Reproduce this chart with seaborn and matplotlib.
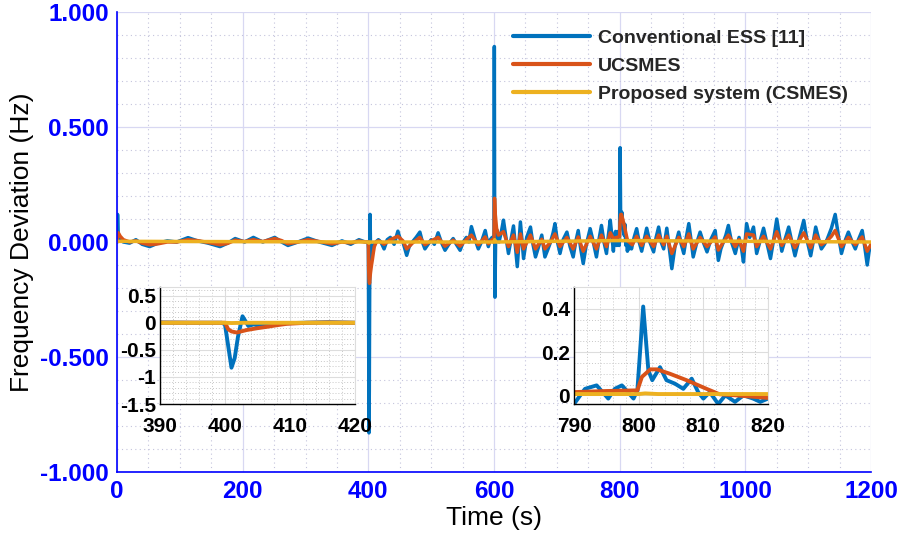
import numpy as np
import pandas as pd
import seaborn as sns
import matplotlib.pyplot as plt
from matplotlib.ticker import MultipleLocator, FormatStrFormatter

# ---- data (time in s, deviation in Hz) ----
t_ess = [0, 0.8, 2, 5, 10, 20, 30, 40, 52, 65, 80, 95, 113, 128, 145, 164, 176, 188, 203, 217,
         232, 251, 262, 272, 288, 304, 322, 342, 358, 372, 385, 395, 399.5,
         400.0, 400.4, 401.0, 401.5, 402.0, 402.7, 403.6, 404.4, 405.4, 407, 409, 412, 416, 420,
         425, 430, 435, 441, 447, 451, 455, 461, 465, 470, 476, 482, 486, 490, 495, 500, 505, 511,
         516, 522, 528, 535, 540, 546, 551, 556, 560, 564, 570, 575, 580, 586, 591, 594, 597, 599.5,
         600.0, 600.5, 601.0, 601.5, 602.5, 605,
         608, 612, 615, 619, 623, 627, 631, 634, 637, 640, 642, 645, 647, 652, 658, 662, 666, 671,
         676, 681, 686, 690, 694, 697, 701, 705, 710, 716, 721, 726, 730, 734, 738, 742, 747, 753,
         758, 763, 767, 771, 775, 779, 782, 785,
         790.0, 791.7, 793.5, 795.3, 796.3, 797.4, 798.1, 799.2, 799.8, 800.7, 801.5, 802.1, 803.3,
         804.3, 805.6, 806.9, 808.2, 809.2, 810.0, 811.0, 812.3, 813.4, 814.9, 816.2, 817.7, 818.8, 820.0,
         823, 827, 831, 835, 839, 843, 848, 854, 858, 862, 866, 870, 875, 879, 883, 888, 894, 898,
         902, 906, 910, 914, 917, 922, 928, 933, 939, 945, 952, 957, 961, 965, 969, 973, 978, 984,
         990, 994, 997, 1002, 1007, 1013, 1018, 1023, 1029, 1034, 1040, 1045, 1050, 1054, 1058, 1063,
         1069, 1074, 1079, 1086, 1093, 1098, 1104, 1108, 1112, 1117, 1121, 1126, 1130, 1137, 1143,
         1148, 1153, 1158, 1164, 1170, 1175, 1180, 1186, 1190, 1194, 1197, 1200]
ess = [0.0, 0.12, 0.03, 0.01, 0.0, -0.005, 0.01, -0.01, -0.02, -0.005, 0.005, 0.0, 0.019, 0.005, -0.005,
       -0.02, -0.005, 0.015, 0.0, 0.02, 0.0, 0.02, 0.0, -0.015, 0.0, 0.017, 0.0, -0.015, 0.005, -0.01,
       0.01, 0.0, 0.0,
       -0.03, -0.35, -0.83, -0.65, -0.26, 0.12, -0.06, -0.03, -0.06, -0.03, -0.01, 0.0, 0.01, 0.0,
       -0.03, 0.01, 0.02, -0.01, 0.047, 0.01, 0.0, -0.058, -0.02, 0.0, 0.02, 0.043, 0.0, -0.03, -0.01,
       0.01, -0.01, 0.04, 0.0, -0.036, -0.01, 0.015, -0.01, -0.036, 0.0, 0.02, 0.0, 0.067, 0.01, -0.03,
       0.0, 0.05, -0.02, 0.01, 0.02, 0.0,
       0.0, 0.85, 0.1, -0.24, 0.0, 0.05,
       0.0, 0.05, 0.095, 0.02, -0.05, 0.01, 0.07, -0.02, -0.107, 0.01, 0.087, -0.01, -0.072, 0.02,
       0.065, -0.01, -0.065, -0.02, 0.03, -0.065, -0.03, 0.0, 0.04, 0.08, 0.0, -0.05, 0.01, 0.043,
       -0.02, -0.065, 0.0, 0.05, -0.03, -0.094, -0.01, 0.058, 0.0, -0.065, 0.01, 0.072, 0.0, -0.05,
       0.03, 0.095,
       -0.04, 0.03, 0.046, -0.015, 0.03, 0.046, 0.023, -0.015, 0.023, 0.41, 0.115, 0.07, 0.13,
       0.07, 0.054, 0.03, 0.077, 0.015, -0.015, 0.015, -0.04, 0.0, -0.03, 0.0, -0.015, -0.03, -0.015,
       0.02, 0.058, 0.0, -0.04, 0.01, 0.06, 0.0, -0.043, 0.02, 0.065, 0.0, -0.03, 0.06, -0.03, -0.116,
       -0.02, 0.043, -0.01, -0.05, 0.02, 0.08, 0.0, -0.065, -0.01, 0.043, 0.0, -0.043, 0.01, 0.05,
       -0.08, -0.03, 0.0, 0.03, 0.072, 0.0, -0.05, 0.02, -0.03, -0.087, 0.08, 0.02, 0.065, -0.05,
       0.0, 0.06, 0.0, -0.072, 0.01, 0.10, 0.03, -0.04, 0.01, 0.065, 0.0, -0.06, 0.02, 0.094, 0.01,
       -0.06, 0.0, 0.065, 0.01, -0.03, -0.01, 0.01, 0.06, 0.12, 0.03, -0.05, 0.0, 0.043, 0.0, -0.03,
       0.01, 0.05, -0.02, -0.10, -0.04, -0.02]

t_ucs = [0, 0.8, 2, 5, 10, 20, 30, 40, 52, 65, 80, 95, 113, 128, 145, 164, 176, 188, 203, 217,
         232, 251, 262, 272, 288, 304, 322, 342, 358, 372, 385, 395, 399.5,
         400.0, 400.5, 401.0, 401.8, 403.3, 405, 406.4, 408, 409.5, 412.6, 416, 420,
         425, 435, 447, 455, 461, 470, 482, 490, 500, 511, 522, 535, 546, 556, 564, 575, 586, 591, 597, 599.5,
         600.0, 600.8, 602, 604, 607,
         615, 623, 631, 637, 642, 647, 658, 666, 676, 681, 690, 697, 705, 716, 726, 734, 742,
         753, 763, 771, 779, 785,
         790, 795, 799.8, 800.5, 801.8, 802.8, 804.8, 807.4, 810.5, 812.5, 815, 820,
         827, 835, 843, 854, 862, 870, 875, 883, 894, 902, 910, 917, 928, 939, 952, 957, 965, 973, 984,
         990, 997, 1002, 1013, 1018, 1029, 1040, 1050, 1058, 1069, 1079, 1093, 1104, 1112, 1121, 1130,
         1137, 1143, 1153, 1164, 1175, 1186, 1194, 1200]
ucs = [0.0, 0.035, 0.04, 0.025, 0.01, 0.0, 0.005, -0.005, -0.012, -0.008, 0.0, 0.0, 0.01, 0.006, -0.002,
       -0.012, -0.006, 0.008, 0.002, 0.01, 0.002, 0.015, 0.006, -0.008, 0.0, 0.01, 0.002, -0.008, 0.0,
       -0.004, 0.004, 0.0, 0.0,
       0.0, -0.12, -0.16, -0.18, -0.135, -0.1, -0.076, -0.045, -0.02, 0.0, 0.005, 0.0,
       -0.01, 0.01, 0.025, 0.005, -0.03, -0.005, 0.02, -0.012, 0.005, 0.02, -0.018, 0.008, -0.018, 0.01,
       0.03, -0.012, 0.022, -0.008, 0.01, 0.0,
       0.0, 0.19, 0.12, 0.06, 0.03,
       0.045, -0.02, 0.03, -0.045, 0.035, -0.03, 0.03, -0.03, 0.012, -0.03, 0.0, 0.035, -0.02, 0.02,
       -0.03, 0.022, -0.04, 0.025, -0.03, 0.03, -0.02, 0.04,
       0.015, 0.02, 0.023, 0.085, 0.12, 0.12, 0.10, 0.07, 0.03, 0.005, 0.0, -0.012,
       0.025, -0.015, 0.025, -0.02, 0.03, -0.012, 0.025, -0.05, 0.02, -0.02, 0.035, -0.03, 0.02, -0.02,
       0.022, -0.035, 0.0, 0.03, -0.02, 0.01, -0.04, 0.035, 0.03, -0.02, 0.025, -0.03, 0.045, -0.015,
       0.03, -0.025, 0.04, -0.025, 0.03, -0.012, 0.005, 0.025, 0.05, -0.02, 0.02, -0.012, 0.022, -0.04,
       -0.01]

t_csmes = [0, 400, 401, 403, 600, 601, 603, 790, 800, 801, 803, 820, 1200]
csmes = [0.003, 0.0, -0.005, 0.0, 0.0, 0.01, 0.0, 0.006, 0.006, 0.009, 0.006, 0.006, 0.0]

assert len(t_ess) == len(ess) and len(t_ucs) == len(ucs)

labels = ["Conventional ESS [11]", "UCSMES", "Proposed system (CSMES)"]
colors = ["#0072BD", "#D95319", "#EDB120"]

sns.set_style("white")
plt.rcParams["font.family"] = ["Liberation Sans", "DejaVu Sans"]

fig = plt.figure(figsize=(9.13, 5.49), dpi=100)
ax = fig.add_axes([0.1282, 0.1403, 0.8258, 0.8378])


def draw(a, lw):
    sns.lineplot(x=t_ess, y=ess, ax=a, color=colors[0], lw=lw, label=labels[0], sort=False)
    sns.lineplot(x=t_ucs, y=ucs, ax=a, color=colors[1], lw=lw, label=labels[1], sort=False)
    sns.lineplot(x=t_csmes, y=csmes, ax=a, color=colors[2], lw=lw, label=labels[2], sort=False)


draw(ax, 2.5)
ax.set_xlim(0, 1200)
ax.set_ylim(-1, 1)
ax.xaxis.set_major_locator(MultipleLocator(200))
ax.xaxis.set_minor_locator(MultipleLocator(50))
ax.yaxis.set_major_locator(MultipleLocator(0.5))
ax.yaxis.set_minor_locator(MultipleLocator(0.1))
ax.yaxis.set_major_formatter(FormatStrFormatter("%.3f"))
ax.grid(which="major", color="#d8d8f2", lw=0.9, ls="-")
ax.grid(which="minor", color="#c4c4dc", lw=0.8, ls=(0, (1, 3)))
ax.set_axisbelow(True)
for s in ["top", "right"]:
    ax.spines[s].set_visible(False)
for s in ["left", "bottom"]:
    ax.spines[s].set_color("#0000ff")
    ax.spines[s].set_linewidth(1.2)
ax.tick_params(which="major", direction="in", length=6, width=1.2, color="#0000ff",
               labelcolor="#0000ff", labelsize=17.5, pad=6)
ax.tick_params(which="minor", length=0)
for lab in ax.get_xticklabels() + ax.get_yticklabels():
    lab.set_fontweight("bold")
ax.set_xlabel("Time (s)", fontsize=19, color="black", labelpad=2)
ax.set_ylabel("Frequency Deviation (Hz)", fontsize=19, color="black", labelpad=4)
leg = ax.legend(loc="upper right", bbox_to_anchor=(0.993, 1.0), frameon=False,
                handlelength=4.0, handletextpad=0.4, labelspacing=0.52,
                prop={"size": 14, "weight": "bold"})
for h in leg.get_lines():
    h.set_linewidth(3)


def inset(rect, xlim, ylim, yticks, yminor):
    a = fig.add_axes(rect, facecolor="white")
    draw(a, 2.8)
    a.get_legend().remove()
    a.set_xlim(*xlim)
    a.set_ylim(*ylim)
    a.set_xticks(np.arange(xlim[0], xlim[1] + 1, 10))
    a.set_yticks(yticks)
    a.xaxis.set_minor_locator(MultipleLocator(2))
    a.yaxis.set_minor_locator(MultipleLocator(yminor))
    a.grid(which="major", color="#dddddd", lw=0.8)
    a.grid(which="minor", color="#c8c8c8", lw=0.7, ls=(0, (1, 2)))
    a.set_axisbelow(True)
    for s in ["top", "right"]:
        a.spines[s].set_color("#dddddd")
    for s in ["left", "bottom"]:
        a.spines[s].set_color("black")
        a.spines[s].set_linewidth(1.0)
    a.tick_params(which="major", direction="in", length=4, color="black",
                  labelcolor="black", labelsize=15, pad=3)
    a.tick_params(axis="x", pad=9)
    a.tick_params(which="minor", length=0)
    for lab in a.get_xticklabels() + a.get_yticklabels():
        lab.set_fontweight("bold")
    a.set_yticklabels([("%g" % v) for v in yticks])
    return a


inset([0.1752, 0.2641, 0.2136, 0.2131], (390, 420), (-1.5, 0.66),
      [0.5, 0, -0.5, -1, -1.5], 0.1)
inset([0.6287, 0.2641, 0.2125, 0.2131], (790, 820), (-0.04, 0.5),
      [0, 0.2, 0.4], 0.05)

fig.savefig("out.png", dpi=100)
